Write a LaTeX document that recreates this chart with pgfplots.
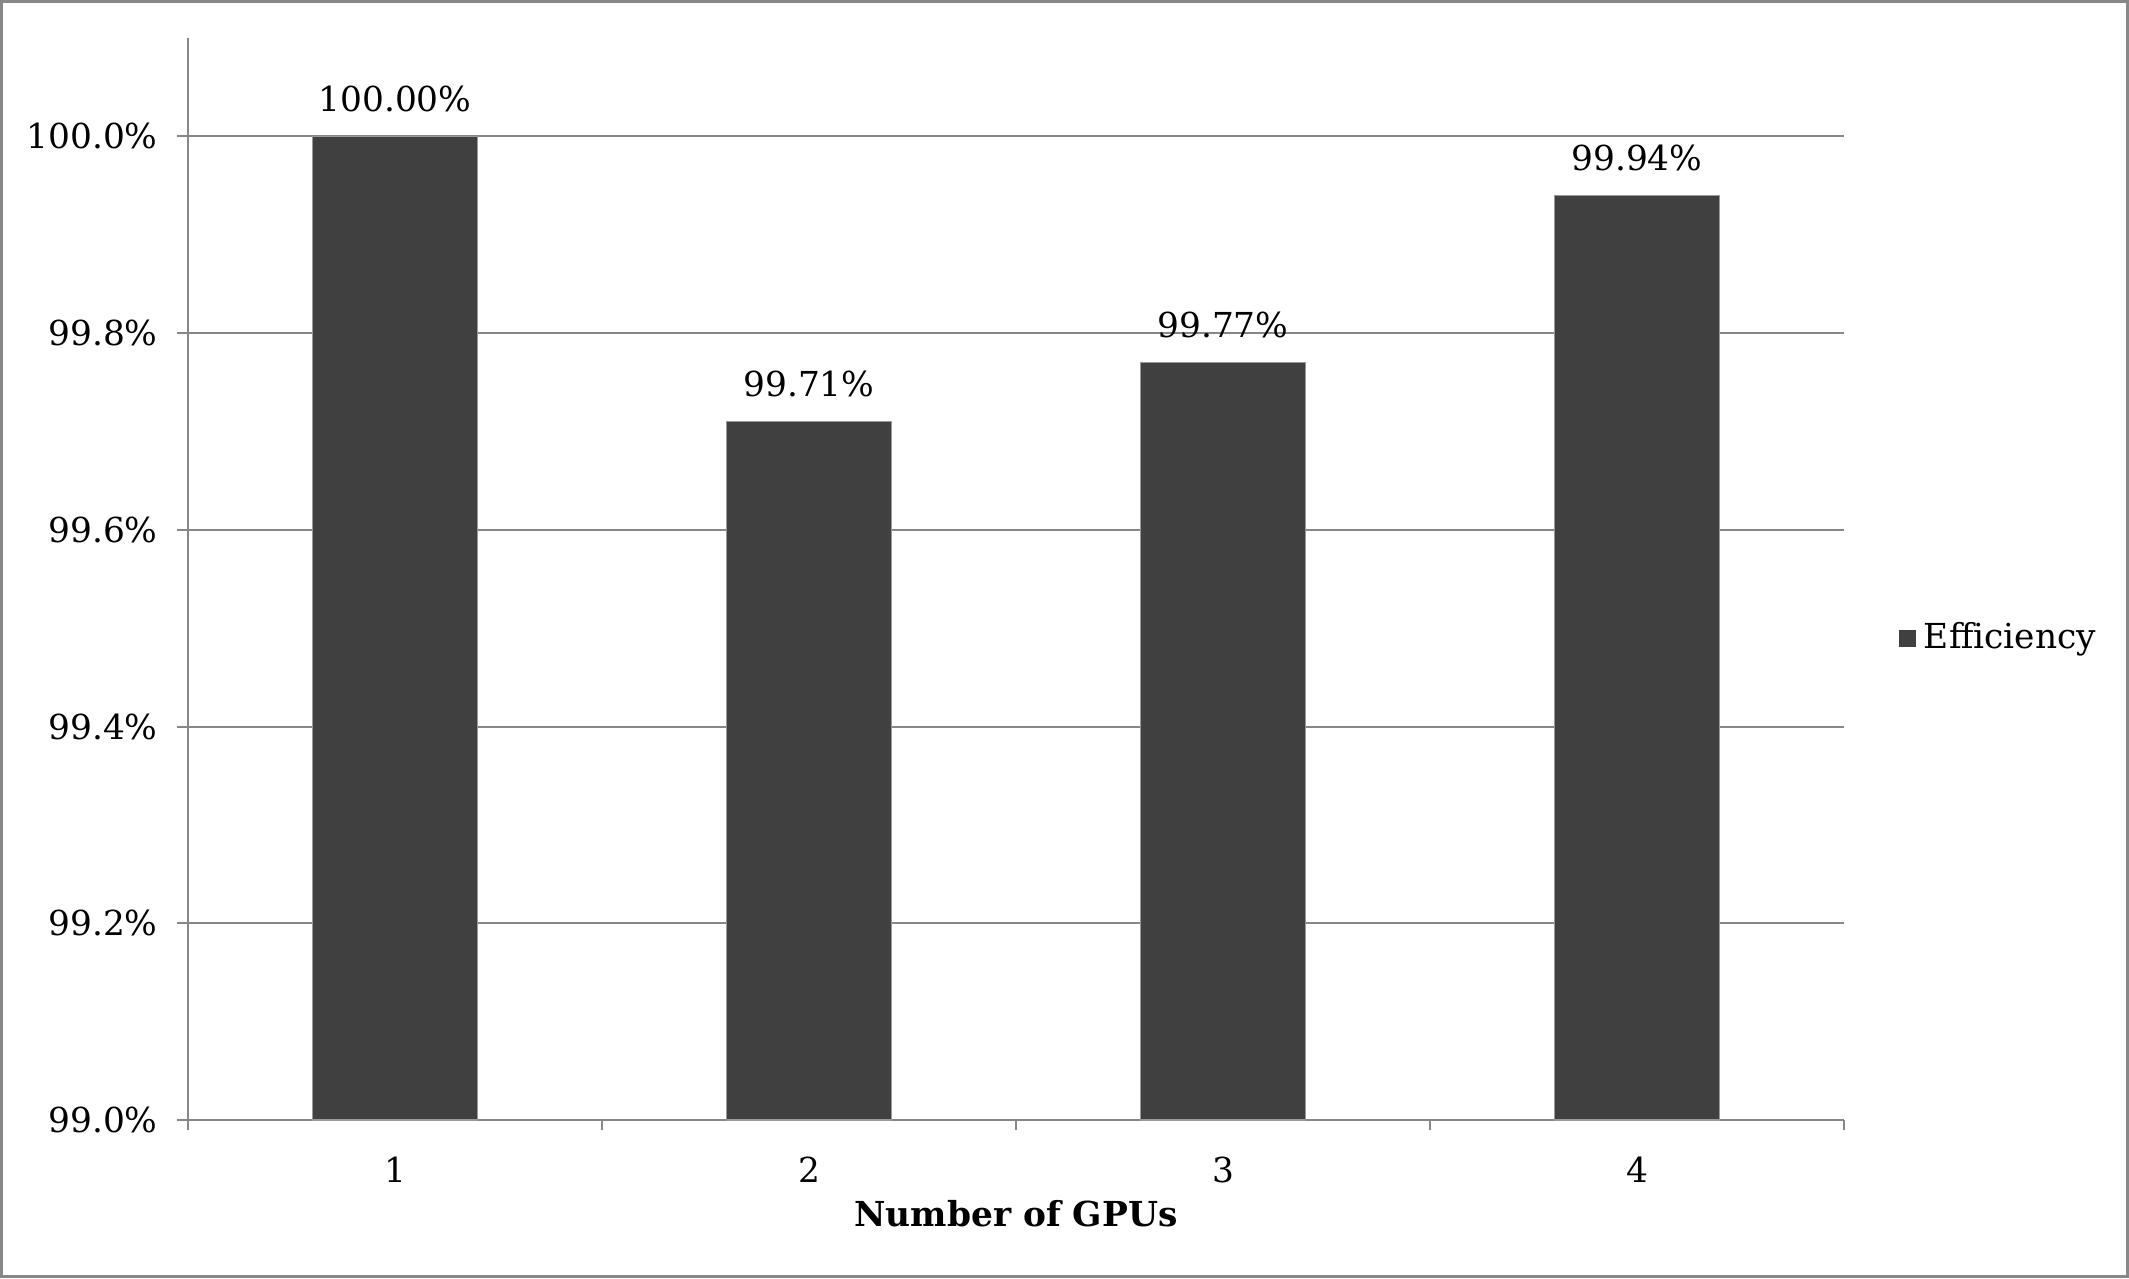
\documentclass[border=0pt]{standalone}
\usepackage{fontspec}
\setmainfont{DejaVu Serif}
\usepackage{pgfplots}
\pgfplotsset{compat=1.18}
\definecolor{barc}{HTML}{404040}
\definecolor{axc}{HTML}{878787}
\begin{document}
\begin{tikzpicture}[font=\fontsize{8.6}{10}\selectfont]
\path[use as bounding box] (0,0) rectangle (532.25pt,319.5pt);
\draw[axc,line width=0.7pt] (0.35pt,0.35pt) rectangle (531.9pt,319.15pt);
\begin{axis}[
  at={(47pt,39.5pt)}, anchor=south west,
  scale only axis, width=414pt, height=270.5pt,
  xmin=0.5, xmax=4.5, ymin=99, ymax=100.1,
  axis lines=left, axis line style={-, axc, line width=0.6pt},
  /pgf/number format/assume math mode=true,
  ybar, bar width=41.25pt, bar shift=0pt,
  xtick={1,2,3,4},
  major x tick style={draw=none},
  minor xtick={0.5,1.5,2.5,3.5,4.5},
  minor x tick style={axc, line width=0.5pt},
  minor tick length=2.5pt,
  ytick={99,99.2,99.4,99.6,99.8,100},
  major y tick style={axc, line width=0.5pt},
  major tick length=2.75pt,
  tick align=outside,
  yticklabel={\pgfmathprintnumber[fixed,fixed zerofill,precision=1]{\tick}\%},
  yticklabel style={xshift=-1.3pt},
  xticklabel style={yshift=-3pt},
  ymajorgrids, grid style={axc, line width=0.5pt},
  xlabel={\textbf{Number of GPUs}},
  xlabel style={yshift=2.5pt},
  nodes near coords={\pgfmathprintnumber[fixed,fixed zerofill,precision=2]{\pgfplotspointmeta}\%},
  nodes near coords style={anchor=south, yshift=2.6pt},
  legend style={at={(rel axis cs:1.0326,0.445)}, anchor=west, draw=none, fill=none, inner sep=0pt},
  legend image code/.code={\fill[barc] (0pt,-2pt) rectangle (4pt,2pt);},
]
\addplot[fill=barc, draw=gray!80, line width=0.3pt] coordinates {(1,100.00) (2,99.71) (3,99.77) (4,99.94)};
\addlegendentry{Efficiency}
\end{axis}
\end{tikzpicture}
\end{document}
